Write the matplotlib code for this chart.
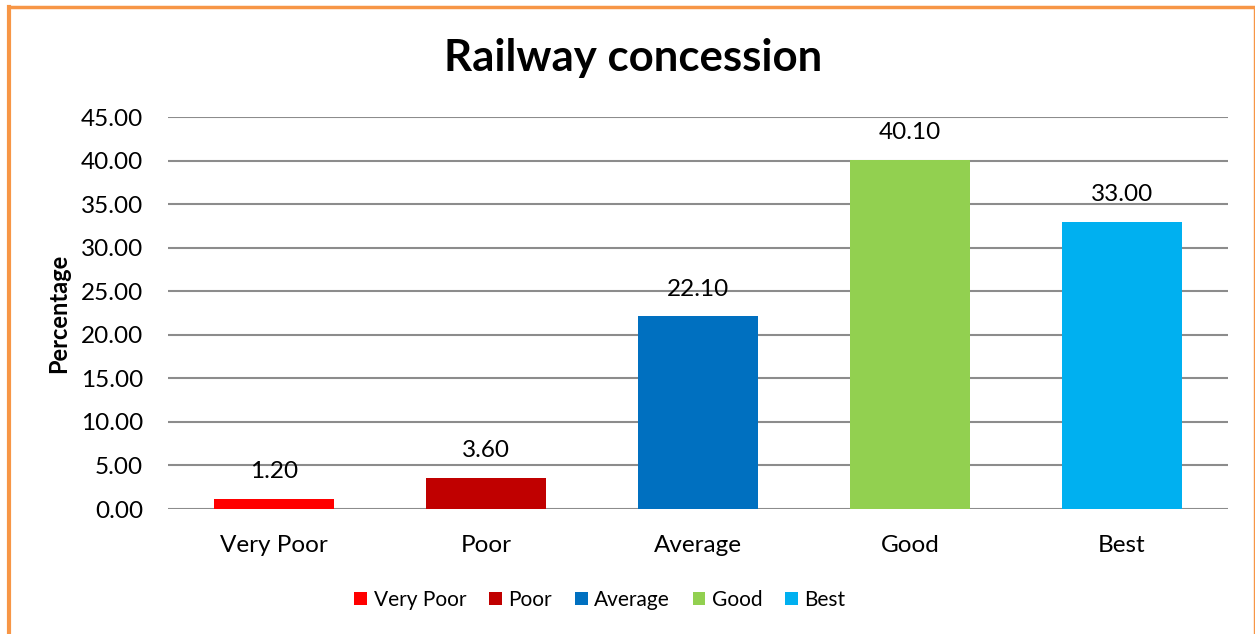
import matplotlib
matplotlib.use("Agg")
import matplotlib.pyplot as plt
from matplotlib.lines import Line2D

categories = ["Very Poor", "Poor", "Average", "Good", "Best"]
values = [1.20, 3.60, 22.10, 40.10, 33.00]
colors = ["#FF0000", "#C00000", "#0070C0", "#92D050", "#00B0F0"]
yticks = [0, 5, 10, 15, 20, 25, 30, 35, 40, 45]

plt.rcParams['font.family'] = ['Lato', 'DejaVu Sans']

fig = plt.figure(figsize=(12.55, 6.34), dpi=100)
ax = fig.add_axes([168 / 1255, 125 / 634, 1060 / 1255, 392 / 634])

x = range(len(categories))
bars = ax.bar(x, values, width=0.57, color=colors, zorder=3)
for b, lab in zip(bars, categories):
    b.set_label(lab)

# value labels above each bar
for xi, v in zip(x, values):
    ax.annotate(f"{v:.2f}", (xi, v), xytext=(0, 19.5), textcoords="offset points",
                ha="center", va="center", fontsize=17.5, color="#000000")

ax.set_xlim(-0.5, 4.5)
ax.set_ylim(0, 45)
ax.set_yticks(yticks)
ax.set_yticklabels([f"{t:.2f}" for t in yticks], fontsize=17.5)
ax.set_xticks(list(x))
ax.set_xticklabels(categories, fontsize=17.5)
ax.tick_params(axis="both", length=0)
ax.tick_params(axis="y", pad=18)
ax.tick_params(axis="x", pad=18.5)
ax.yaxis.grid(True, color="#8C8C8C", linewidth=1.5, zorder=0)
for s in ax.spines.values():
    s.set_visible(False)

ax.set_ylabel("Percentage", fontsize=17, fontweight="bold")
ax.yaxis.set_label_coords((70 - 168) / 1060, 0.5)
fig.text(633 / 1255, 1 - 58 / 634, "Railway concession", ha="center", va="center",
         fontsize=31.5, fontweight="bold")

ax.legend(loc="center", bbox_to_anchor=(600 / 1255, 1 - 600 / 634), bbox_transform=fig.transFigure,
          ncol=5, frameon=False, fontsize=15, handlelength=0.62, handleheight=0.62,
          handletextpad=0.3, columnspacing=1.1)

orange = "#F79646"
fig.add_artist(Line2D([9 / 1255, 9 / 1255], [0, 1 - 6.5 / 634], color=orange, linewidth=3, transform=fig.transFigure))
fig.add_artist(Line2D([9 / 1255, 1254 / 1255], [1 - 6.5 / 634, 1 - 6.5 / 634], color=orange, linewidth=2.5, transform=fig.transFigure))
fig.add_artist(Line2D([1254 / 1255, 1254 / 1255], [0, 1 - 6.5 / 634], color=orange, linewidth=1, transform=fig.transFigure))

fig.savefig("out.png", dpi=100, facecolor="white")
